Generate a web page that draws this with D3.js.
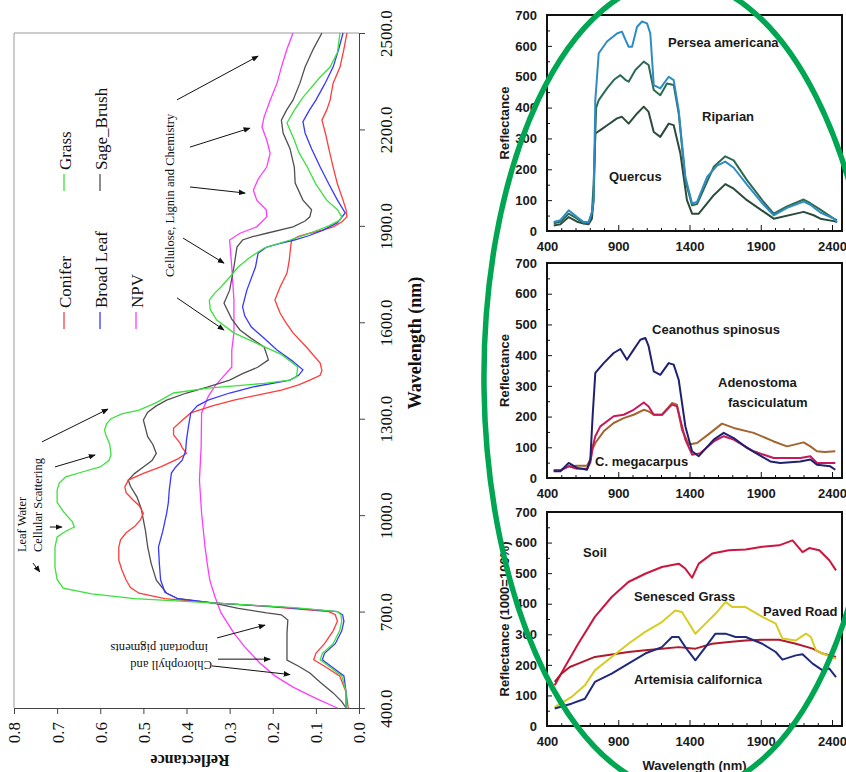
<!DOCTYPE html>
<meta charset="utf-8">
<style>
body { margin: 0; background: #fff; }
svg { display: block; }
.laxis path, .laxis line { stroke: #444; fill: none; }
.laxis text { font-family: "Liberation Serif", serif; font-size: 17px; fill: #111; }
.frame { fill: none; stroke: #9a9a9a; }
.serif { font-family: "Liberation Serif", serif; fill: #111; }
.arrow { stroke: #111; stroke-width: 1; fill: none; }
.paxis path { display: none; }
.paxis line { stroke: #111; }
.paxis text { font-family: "Liberation Sans", Arial, sans-serif; font-weight: bold; font-size: 13px; fill: #1a1a1a; }
.plabel { font-family: "Liberation Sans", Arial, sans-serif; font-weight: bold; font-size: 13px; fill: #1a1a1a; }
.box { fill: none; stroke: #111; stroke-width: 2; }
</style>

<svg id="fig" width="846" height="772"></svg>
<script src="https://d3js.org/d3.v7.min.js"></script>
<script>
// ---------- left chart: field spectra, drawn turned on its side ----------
var wlTicks = [400, 700, 1000, 1300, 1600, 1900, 2200, 2500],
    reflTicks = [0, 0.1, 0.2, 0.3, 0.4, 0.5, 0.6, 0.7, 0.8];

var legendNames = ["Conifer", "Broad Leaf", "NPV", "Grass", "Sage_Brush"],
    legendColors = ["#ff3b3b", "#3838ff", "#ff3cff", "#3de03d", "#505050"];

// [wavelength nm, reflectance]
var conifer = [[400,0.025],[450,0.03],[500,0.045],[530,0.08],[550,0.105],[570,0.1],[600,0.08],[640,0.06],[670,0.05],[690,0.055],[700,0.07],[715,0.2],[727,0.34],[740,0.45],[757,0.51],[775,0.53],[798,0.54],[830,0.55],[860,0.557],[900,0.557],[923,0.553],[945,0.54],[965,0.52],[985,0.507],[1006,0.5],[1030,0.51],[1047,0.524],[1070,0.54],[1088,0.543],[1109,0.535],[1130,0.5],[1150,0.46],[1175,0.42],[1192,0.4],[1210,0.41],[1224,0.415],[1250,0.43],[1270,0.43],[1295,0.41],[1318,0.39],[1340,0.34],[1358,0.29],[1375,0.23],[1389,0.18],[1405,0.14],[1420,0.114],[1435,0.09],[1450,0.086],[1473,0.09],[1520,0.12],[1567,0.153],[1600,0.17],[1629,0.183],[1669,0.195],[1710,0.183],[1753,0.167],[1790,0.162],[1815,0.16],[1840,0.158],[1856,0.156],[1867,0.14],[1877,0.114],[1887,0.085],[1897,0.06],[1912,0.04],[1928,0.028],[1950,0.03],[1980,0.037],[2030,0.05],[2083,0.06],[2140,0.07],[2189,0.078],[2229,0.086],[2260,0.075],[2291,0.067],[2344,0.06],[2394,0.044],[2450,0.035],[2500,0.028]];
var grass = [[400,0.03],[450,0.03],[500,0.04],[530,0.07],[550,0.09],[570,0.085],[600,0.06],[640,0.045],[670,0.04],[690,0.042],[700,0.05],[712,0.15],[727,0.34],[740,0.52],[755,0.62],[773,0.686],[800,0.7],[838,0.705],[900,0.705],[932,0.7],[950,0.68],[963,0.66],[980,0.665],[1010,0.685],[1040,0.7],[1078,0.7],[1100,0.695],[1119,0.68],[1135,0.64],[1150,0.6],[1170,0.58],[1187,0.575],[1220,0.578],[1250,0.587],[1265,0.59],[1285,0.585],[1300,0.575],[1315,0.55],[1327,0.51],[1350,0.47],[1380,0.43],[1395,0.35],[1410,0.22],[1420,0.16],[1430,0.145],[1461,0.142],[1500,0.18],[1530,0.23],[1567,0.29],[1607,0.33],[1640,0.345],[1669,0.347],[1690,0.335],[1710,0.32],[1740,0.3],[1772,0.28],[1800,0.255],[1831,0.22],[1856,0.16],[1877,0.114],[1900,0.07],[1918,0.044],[1928,0.04],[1950,0.05],[1980,0.075],[2030,0.1],[2083,0.12],[2130,0.14],[2167,0.15],[2220,0.167],[2260,0.15],[2300,0.13],[2363,0.09],[2394,0.067],[2440,0.05],[2500,0.044]];
var broadLeaf = [[400,0.03],[450,0.03],[500,0.035],[530,0.065],[550,0.085],[570,0.08],[600,0.055],[640,0.04],[670,0.035],[690,0.038],[700,0.05],[714,0.18],[727,0.34],[740,0.42],[760,0.45],[798,0.46],[850,0.463],[901,0.465],[950,0.455],[1006,0.446],[1040,0.442],[1078,0.44],[1131,0.435],[1150,0.425],[1171,0.41],[1200,0.402],[1234,0.4],[1280,0.395],[1318,0.39],[1340,0.375],[1358,0.35],[1380,0.3],[1399,0.245],[1420,0.16],[1435,0.14],[1452,0.13],[1480,0.155],[1514,0.19],[1550,0.22],[1586,0.25],[1620,0.265],[1648,0.27],[1700,0.26],[1772,0.24],[1815,0.234],[1834,0.214],[1845,0.185],[1856,0.15],[1870,0.115],[1887,0.083],[1910,0.05],[1940,0.032],[1980,0.05],[2030,0.07],[2083,0.09],[2140,0.11],[2189,0.125],[2224,0.13],[2260,0.115],[2291,0.1],[2340,0.08],[2394,0.06],[2450,0.047],[2500,0.037]];
var sageBrush = [[400,0.03],[420,0.04],[447,0.06],[480,0.09],[509,0.114],[530,0.14],[549,0.167],[590,0.167],[633,0.167],[674,0.165],[690,0.18],[696,0.214],[710,0.28],[727,0.34],[740,0.42],[757,0.446],[798,0.47],[850,0.482],[901,0.49],[950,0.495],[985,0.5],[1020,0.505],[1057,0.515],[1090,0.53],[1109,0.535],[1130,0.52],[1150,0.5],[1170,0.48],[1192,0.47],[1220,0.478],[1244,0.49],[1270,0.495],[1296,0.5],[1320,0.49],[1340,0.47],[1358,0.446],[1380,0.4],[1399,0.35],[1420,0.3],[1440,0.27],[1460,0.235],[1483,0.21],[1523,0.22],[1550,0.25],[1576,0.276],[1610,0.295],[1659,0.313],[1700,0.3],[1772,0.29],[1834,0.283],[1856,0.27],[1867,0.245],[1877,0.214],[1897,0.153],[1915,0.125],[1928,0.114],[1950,0.11],[1980,0.13],[2033,0.148],[2083,0.15],[2140,0.16],[2189,0.176],[2229,0.18],[2260,0.168],[2291,0.153],[2344,0.137],[2394,0.125],[2450,0.106],[2500,0.086]];
var npv = [[400,0.05],[430,0.1],[465,0.153],[500,0.195],[540,0.23],[590,0.265],[633,0.29],[696,0.32],[750,0.335],[798,0.346],[850,0.352],[901,0.357],[1006,0.365],[1109,0.37],[1213,0.366],[1318,0.365],[1368,0.35],[1400,0.335],[1420,0.322],[1461,0.295],[1514,0.295],[1567,0.29],[1669,0.29],[1772,0.295],[1856,0.3],[1877,0.276],[1897,0.237],[1928,0.214],[1950,0.215],[1980,0.237],[2011,0.245],[2045,0.234],[2083,0.214],[2126,0.206],[2167,0.214],[2208,0.225],[2239,0.22],[2291,0.206],[2344,0.19],[2394,0.18],[2450,0.167],[2500,0.153]];

// arrows: [from wavelength, from refl, to wavelength, to refl]
var leftArrows = [
  [2292,0.422,2428,0.234],[2145,0.392,2204,0.253],[2021,0.392,2002,0.264],
  [1862,0.408,1784,0.313],[1676,0.422,1576,0.313],
  [1228,0.735,1330,0.582],[1150,0.705,1187,0.612],[963,0.717,963,0.689],[851,0.756,823,0.740],
  [618,0.329,658,0.218],[552,0.327,552,0.206],[531,0.341,504,0.16]
];

// ---------- right panels: canopy spectra ----------
var pxTicks = [400, 900, 1400, 1900, 2400],
    pyTicks = [0, 100, 200, 300, 400, 500, 600, 700];

// [wavelength nm, reflectance x1000]
var persea = [[447,29],[494,35],[552,67],[611,45],[657,29],[692,29],[715,60],[727,100],[739,424],[763,576],[821,614],[891,640],[926,646],[950,620],[973,597],[997,597],[1032,662],[1067,679],[1102,673],[1125,640],[1149,473],[1195,462],[1254,500],[1289,489],[1324,392],[1371,175],[1418,89],[1453,94],[1523,175],[1593,212],[1651,225],[1710,205],[1803,150],[1920,85],[1991,51],[2084,75],[2201,95],[2248,85],[2318,60],[2412,40],[2435,29]];
var riparian = [[447,25],[494,30],[552,56],[611,40],[657,25],[692,25],[715,60],[727,150],[745,400],[763,424],[821,462],[870,490],[915,505],[950,490],[973,484],[1020,522],[1079,549],[1113,538],[1149,457],[1195,440],[1242,478],[1289,473],[1324,381],[1371,164],[1418,83],[1453,87],[1570,208],[1651,242],[1710,229],[1803,165],[1920,94],[1991,56],[2084,80],[2201,102],[2248,90],[2318,69],[2412,40],[2435,35]];
var quercus = [[447,18],[494,22],[552,45],[611,30],[657,24],[692,22],[715,40],[727,100],[739,316],[774,327],[830,345],[891,365],[926,370],[973,348],[1032,381],[1079,403],[1113,386],[1149,321],[1195,305],[1254,348],[1289,343],[1336,251],[1382,100],[1418,56],[1465,56],[1570,116],[1651,152],[1710,137],[1803,100],[1991,40],[2201,62],[2271,51],[2318,40],[2412,32],[2435,29]];
var ceanothus = [[447,22],[494,22],[552,49],[611,33],[681,27],[704,60],[720,200],[739,342],[798,374],[868,407],[915,420],[961,385],[1008,418],[1055,450],[1090,456],[1113,429],[1149,347],[1195,336],[1254,374],[1289,369],[1324,320],[1371,168],[1418,87],[1465,71],[1570,125],[1640,147],[1710,130],[1803,98],[1967,54],[2037,49],[2178,54],[2248,60],[2294,43],[2388,38],[2423,27]];
var megacarpus = [[447,25],[494,25],[552,38],[611,30],[681,30],[704,50],[720,100],[739,136],[774,168],[868,201],[938,206],[1008,222],[1079,246],[1113,233],[1149,206],[1207,206],[1277,239],[1312,233],[1371,125],[1418,76],[1477,81],[1570,119],[1640,136],[1710,125],[1850,87],[1991,65],[2178,65],[2248,71],[2294,49],[2423,49]];
var adenostoma = [[447,25],[494,25],[552,38],[611,40],[681,40],[704,60],[720,95],[739,114],[798,152],[868,179],[938,195],[1008,206],[1079,222],[1113,217],[1149,206],[1207,206],[1277,244],[1312,239],[1347,157],[1394,109],[1453,114],[1546,147],[1628,177],[1710,163],[1850,147],[1991,119],[2084,103],[2201,116],[2248,103],[2294,87],[2350,85],[2423,87]];
var soil = [[454,133],[525,193],[619,269],[736,357],[854,422],[971,471],[1089,498],[1206,520],[1324,531],[1370,515],[1418,485],[1465,531],[1559,564],[1676,575],[1794,577],[1911,586],[2029,591],[2123,607],[2193,569],[2240,582],[2311,575],[2381,542],[2428,509]];
var pavedRoad = [[454,144],[501,171],[560,193],[619,204],[736,226],[854,234],[971,242],[1089,248],[1206,253],[1324,258],[1441,253],[1559,269],[1676,275],[1794,280],[1911,282],[2029,282],[2146,269],[2264,253],[2334,237],[2428,226]];
var senescedGrass = [[454,62],[572,95],[666,133],[736,182],[854,226],[971,269],[1089,308],[1206,340],[1300,378],[1347,373],[1441,302],[1512,335],[1582,367],[1653,406],[1700,389],[1794,389],[1911,357],[2005,335],[2052,286],[2146,280],[2217,302],[2252,291],[2287,248],[2334,237],[2428,220]];
var artemisia = [[454,57],[572,73],[666,89],[736,144],[854,171],[971,204],[1089,237],[1206,258],[1277,291],[1324,291],[1371,258],[1441,215],[1512,258],[1582,302],[1653,302],[1723,291],[1794,291],[1911,269],[2005,242],[2052,217],[2146,231],[2193,235],[2264,204],[2334,182],[2381,188],[2428,160]];

// labels: [text, wavelength, value]
var panel1Labels = [["Persea americana",1249,596],["Riparian",1488,356],["Quercus",835,162]],
    panel2Labels = [["Ceanothus spinosus",1137,469],["Adenostoma",1600,296],["fasciculatum",1670,231],["C. megacarpus",737,39]],
    panel3Labels = [["Soil",653,553],["Senesced Grass",1011,409],["Paved Road",1916,360],["Artemisia californica",1011,137]];

var svg = d3.select("#fig");

// left chart, wavelength runs up the page, reflectance runs right to left
var yW = d3.scaleLinear().domain([400, 2500]).range([708, 33]),
    xR = d3.scaleLinear().domain([0, 0.8]).range([359, 14]);

var left = svg.append("g");

left.append("path").attr("class", "frame")
  .attr("d", "M" + xR(0) + "," + yW(2500) + "H" + xR(0.8) + "V" + yW(400));

var gw = left.append("g").attr("class", "laxis")
  .attr("transform", "translate(" + xR(0) + ",0)")
  .call(d3.axisRight(yW).tickValues(wlTicks).tickFormat(d3.format(".1f")).tickSize(6).tickSizeOuter(0));
gw.selectAll("text").attr("transform", "rotate(-90)").attr("x", 0).attr("y", 33).attr("dy", 0).attr("text-anchor", "middle");

var gr = left.append("g").attr("class", "laxis")
  .attr("transform", "translate(0," + yW(400) + ")")
  .call(d3.axisBottom(xR).tickValues(reflTicks).tickFormat(d3.format(".1f")).tickSize(6).tickSizeOuter(0));
gr.selectAll("text").attr("transform", "rotate(-90)").attr("x", -14).attr("y", 0).attr("dy", "0.35em").attr("text-anchor", "end");

var lline = d3.line().x(function (d) { return xR(d[1]); }).y(function (d) { return yW(d[0]); });
var leftSeries = [npv, sageBrush, conifer, broadLeaf, grass],
    leftColors = ["#ff3cff", "#505050", "#ff3b3b", "#3838ff", "#3de03d"];
left.selectAll(".spec").data(leftSeries).enter().append("path")
  .attr("d", lline)
  .attr("fill", "none")
  .attr("stroke", function (d, i) { return leftColors[i]; })
  .attr("stroke-width", 1.3);

// legend
var colY = [312, 174];
legendNames.forEach(function (name, i) {
  var col = i < 3 ? 0 : 1, row = i < 3 ? i : i - 3;
  var lx = 64 + row * 36;
  left.append("line").attr("x1", lx).attr("x2", lx)
    .attr("y1", colY[col]).attr("y2", colY[col] + 17)
    .attr("stroke", legendColors[i]).attr("stroke-width", 1.3);
  left.append("text").attr("class", "serif").style("font-size", "17px")
    .attr("transform", "translate(" + (lx + 7) + "," + (colY[col] - 4) + ") rotate(-90)")
    .text(name);
});

// axis titles
left.append("text").attr("class", "serif")
  .style("font-size", "18px").style("font-weight", "bold")
  .attr("transform", "translate(421,343) rotate(-90)")
  .attr("text-anchor", "middle").text("Wavelength (nm)");
left.append("text").attr("class", "serif")
  .style("font-size", "16px").style("font-weight", "bold")
  .attr("transform", "translate(190,755) rotate(180)")
  .attr("text-anchor", "middle").text("Reflectance");

// annotations
svg.append("defs").append("marker").attr("id", "ah")
  .attr("viewBox", "0 0 10 10").attr("refX", 9).attr("refY", 5)
  .attr("markerWidth", 7).attr("markerHeight", 7).attr("orient", "auto")
  .append("path").attr("d", "M0,1L10,5L0,9Z").attr("fill", "#111");

left.selectAll(".arrow").data(leftArrows).enter().append("line")
  .attr("class", "arrow")
  .attr("x1", function (d) { return xR(d[1]); }).attr("y1", function (d) { return yW(d[0]); })
  .attr("x2", function (d) { return xR(d[3]); }).attr("y2", function (d) { return yW(d[2]); })
  .attr("marker-end", "url(#ah)");

function note(txt, w, r, angle, size) {
  left.append("text").attr("class", "serif").style("font-size", size + "px")
    .attr("transform", "translate(" + xR(r) + "," + yW(w) + ") rotate(" + angle + ")")
    .text(txt);
}
note("Cellulose, Lignin and Chemistry", 1741, 0.429, -90, 12.5);
note("Leaf Water", 885, 0.772, -90, 12.5);
note("Cellular Scattering", 885, 0.735, -90, 12.5);
note("Chlorophyll and", 546, 0.341, 180, 12.5);
note("important pigments", 599, 0.350, 180, 12.5);

// right panels
var px = d3.scaleLinear().domain([400, 2470]).range([547, 842]);
var panels = [
  { top: 15, bottom: 231, series: [quercus, riparian, persea], colors: ["#2b4c3a", "#2c6a52", "#2f8cc2"], labels: panel1Labels, title: "Reflectance" },
  { top: 263, bottom: 478, series: [adenostoma, megacarpus, ceanothus], colors: ["#a3642e", "#c8185c", "#20206e"], labels: panel2Labels, title: "Reflectance" },
  { top: 512, bottom: 726, series: [soil, pavedRoad, senescedGrass, artemisia], colors: ["#cc1640", "#b01a2c", "#d6cc22", "#1f2a7a"], labels: panel3Labels, title: "Reflectance (1000=100%)" }
];

panels.forEach(function (p) {
  var py = d3.scaleLinear().domain([0, 700]).range([p.bottom, p.top]);
  var g = svg.append("g");

  var ya = g.append("g").attr("class", "paxis").attr("transform", "translate(" + px(400) + ",0)")
    .call(d3.axisLeft(py).tickValues(d3.range(0, 701, 50)).tickSizeInner(-5).tickSizeOuter(0).tickPadding(10)
      .tickFormat(function (d) { return d % 100 ? "" : d; }));
  ya.selectAll("line").attr("x2", function (d) { return d % 100 ? 3 : 5; });

  var xa = g.append("g").attr("class", "paxis").attr("transform", "translate(0," + p.bottom + ")")
    .call(d3.axisBottom(px).tickValues(d3.range(400, 2401, 100)).tickSizeInner(-4).tickSizeOuter(0).tickPadding(11)
      .tickFormat(function (d) { return pxTicks.indexOf(d) >= 0 ? d : ""; }));
  xa.selectAll("line").attr("y2", function (d) { return pxTicks.indexOf(d) >= 0 ? -6 : -3; });

  var line = d3.line().x(function (d) { return px(d[0]); }).y(function (d) { return py(d[1]); });
  g.selectAll(".s").data(p.series).enter().append("path")
    .attr("d", line).attr("fill", "none")
    .attr("stroke", function (d, i) { return p.colors[i]; })
    .attr("stroke-width", 2).attr("stroke-linejoin", "round");

  g.append("rect").attr("class", "box")
    .attr("x", px(400)).attr("y", p.top)
    .attr("width", px(2470) - px(400)).attr("height", p.bottom - p.top);

  g.selectAll(".lab").data(p.labels).enter().append("text").attr("class", "plabel")
    .attr("x", function (d) { return px(d[1]); }).attr("y", function (d) { return py(d[2]); })
    .text(function (d) { return d[0]; });

  g.append("text").attr("class", "plabel")
    .attr("transform", "translate(509," + ((p.top + p.bottom) / 2) + ") rotate(-90)")
    .attr("text-anchor", "middle").text(p.title);
});

svg.append("text").attr("class", "plabel")
  .attr("x", (px(400) + px(2470)) / 2).attr("y", 770)
  .attr("text-anchor", "middle").text("Wavelength (nm)");

// green highlight ring
svg.append("ellipse")
  .attr("cx", 681).attr("cy", 386).attr("rx", 197).attr("ry", 406)
  .attr("transform", "rotate(-0.8,681,386)")
  .attr("fill", "none").attr("stroke", "#00a651").attr("stroke-width", 5.5);
</script>
